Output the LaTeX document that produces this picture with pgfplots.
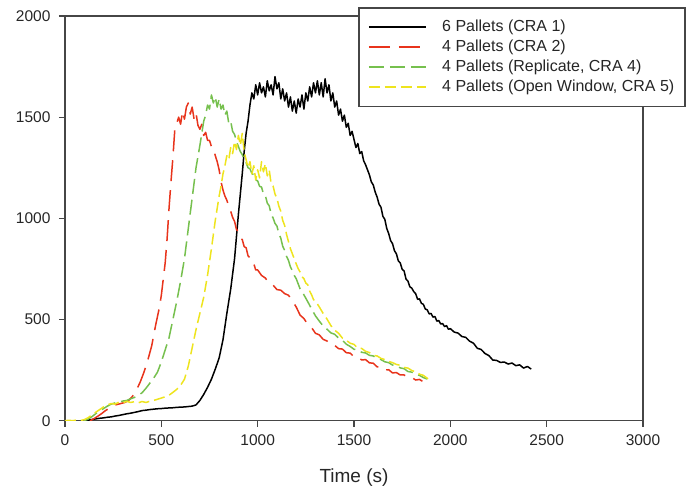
\documentclass[border=0pt]{standalone}
\usepackage{fontspec}
\setmainfont{Liberation Sans}
\usepackage{pgfplots}
\pgfplotsset{compat=1.18}
\definecolor{axgray}{RGB}{70,70,70}
\definecolor{cred}{RGB}{232,52,28}
\definecolor{cgreen}{RGB}{118,192,78}
\definecolor{cyellow}{RGB}{238,228,30}
\begin{document}
\begin{tikzpicture}
\begin{axis}[
  scale only axis, width=578pt, height=404.7pt,
  xmin=0, xmax=3000, ymin=0, ymax=2000,
  xtick={0,500,...,3000}, ytick={0,500,...,2000},
  tick align=outside, xtick pos=bottom, ytick pos=left,
  major tick length=6pt,
  axis line style={draw=axgray, line width=1.3pt},
  every tick/.style={draw=axgray, line width=1.2pt},
  /pgf/number format/assume math mode=true,
  /pgf/number format/1000 sep={},
  ticklabel style={font=\fontsize{15.5}{18}\selectfont, text=black!85},
  xticklabel style={yshift=-4pt},
  yticklabel style={xshift=-5pt},
  xlabel={Time (s)},
  xlabel style={font=\fontsize{19}{22}\selectfont, text=black!85, yshift=-17pt},
  legend style={name=leg, at={(rel axis cs:1.0727,1.0198)}, anchor=north east,
    draw=none, fill=white,
    font=\fontsize{16}{19}\selectfont, text=black!85,
    inner xsep=9pt, inner ysep=9pt, row sep=0pt, column sep=14pt,
    nodes={inner sep=1.5pt, text height=12.5pt, text depth=4.5pt}},
  legend cell align=left,
  legend image code/.code={\draw[#1] (0pt,0pt) -- (57pt,0pt);},
  every axis plot/.append style={line width=1.5pt, line join=round},
]
\addplot[black] coordinates {
(100,0)(120,3)(140,6)(160,9)(180,12)(200,14)(220,17)(240,19)(260,23)(280,26)(300,30)(320,34)(340,37)(360,41)(380,45)(400,50)(420,52)(440,55)(460,57)(480,59)(500,60)(520,62)(540,63)(560,64)(580,66)(600,67)(620,68)(640,70)(660,72)(680,78)(700,100)(720,130)(740,165)(760,205)(780,255)(800,310)(820,400)(840,530)(860,650)(880,800)(900,1020)(910,1120)(920,1220)(930,1330)
(940,1420)(950,1480)(960,1560)(970,1620)(980,1590)(990,1660)(1000,1610)(1010,1670)(1020,1620)(1030,1650)(1040,1600)(1050,1680)(1060,1630)(1070,1660)(1080,1610)(1090,1700)(1100,1640)(1110,1670)(1120,1590)(1130,1640)(1140,1580)(1150,1620)(1160,1550)(1170,1600)(1180,1530)(1190,1580)(1200,1520)(1210,1590)(1220,1550)(1230,1610)(1240,1540)(1250,1620)(1260,1580)(1270,1650)(1280,1600)(1290,1670)(1300,1620)(1310,1680)(1320,1610)(1330,1670)(1340,1600)(1350,1690)(1360,1620)(1370,1660)(1380,1580)(1390,1620)(1400,1550)(1410,1580)(1420,1510)(1430,1540)(1440,1480)(1450,1510)(1460,1450)(1470,1470)(1480,1410)(1490,1430)(1500,1390)
(1510,1350)(1520,1370)(1530,1320)(1540,1330)(1550,1285)(1560,1265)(1570,1240)(1580,1215)(1590,1180)(1600,1165)(1610,1130)(1620,1105)(1630,1070)(1640,1055)(1650,1010)(1660,995)(1670,950)(1680,925)(1690,890)(1700,875)(1710,840)(1720,825)(1730,790)(1740,780)(1750,748)(1760,740)(1770,700)(1780,690)(1790,662)(1800,655)(1810,638)(1820,628)(1830,600)(1840,602)(1850,580)(1860,575)(1870,552)(1880,548)(1890,528)(1900,530)(1910,512)(1920,515)(1930,492)(1940,495)(1950,478)(1960,480)(1970,465)(1980,470)(1990,452)(2000,455)(2020,438)(2040,433)(2060,416)(2080,412)(2100,393)(2120,383)(2140,358)(2160,352)(2180,332)(2200,322)(2220,300)(2240,298)(2260,288)(2280,290)(2300,280)(2320,285)(2340,272)(2360,276)(2380,260)(2400,268)(2420,255)
};
\addlegendentry{6 Pallets (CRA 1)}
\addplot[cred, dash pattern=on 21pt off 9pt] coordinates {
(130,0)(150,10)(170,22)(190,35)(210,50)(230,62)(250,75)(270,80)(290,85)(310,90)(330,100)(350,120)(370,150)(390,190)(410,240)(430,300)(450,370)(470,470)(490,560)(500,620)(510,700)(520,780)(530,900)(540,1050)(550,1180)(560,1300)(570,1440)(580,1470)(590,1500)(600,1465)(610,1530)(620,1490)(630,1550)(640,1570)(650,1515)(660,1550)(670,1490)(680,1520)(690,1460)(700,1440)(710,1465)(720,1410)(730,1425)(740,1385)(750,1385)(760,1355)(770,1350)(780,1310)(790,1280)(800,1240)(810,1180)(820,1140)(830,1110)(840,1090)(850,1060)(860,1035)(870,1005)(880,985)(890,945)(900,935)(910,905)(920,895)(930,860)(940,855)(950,815)(960,805)(970,780)(980,775)(990,745)(1000,745)(1020,718)(1040,705)(1060,678)(1080,670)(1100,648)(1120,645)(1140,628)(1160,620)(1180,592)(1200,562)(1220,522)(1240,505)(1260,476)(1280,460)(1300,432)(1320,424)(1340,402)(1360,394)(1380,375)(1400,372)(1420,356)(1440,354)(1460,336)(1480,334)(1500,316)(1520,314)(1540,300)(1560,302)(1580,286)(1600,284)(1620,266)(1640,266)(1660,250)(1680,252)(1700,236)(1720,238)(1740,226)(1760,226)(1780,214)(1800,214)(1820,201)(1840,204)(1855,195)
};
\addlegendentry{4 Pallets (CRA 2)}
\addplot[cgreen, dash pattern=on 15pt off 6pt] coordinates {
(100,0)(120,8)(140,20)(160,35)(180,48)(200,60)(220,72)(240,82)(260,88)(280,92)(300,97)(320,100)(340,108)(360,115)(380,125)(400,138)(420,160)(440,185)(460,210)(480,240)(500,290)(520,350)(540,410)(560,500)(580,590)(600,690)(620,800)(640,950)(660,1100)(680,1250)(700,1360)(710,1420)(720,1480)(730,1510)(740,1560)(750,1540)(760,1610)(770,1570)(780,1600)(790,1550)(800,1590)(810,1540)(820,1560)(830,1510)(840,1530)(850,1470)(860,1480)(870,1430)(880,1415)(890,1380)(900,1355)(910,1330)(920,1315)(930,1290)(940,1275)(950,1250)(960,1245)(970,1222)(980,1215)(990,1190)(1000,1185)(1010,1158)(1020,1155)(1030,1120)(1040,1112)(1050,1075)(1060,1062)(1070,1020)(1080,1002)(1090,975)(1100,962)(1110,925)(1120,902)(1130,862)(1140,842)(1150,812)(1160,792)(1170,760)(1180,742)(1190,718)(1200,702)(1220,652)(1240,622)(1260,588)(1280,552)(1300,518)(1320,492)(1340,468)(1360,452)(1380,434)(1400,427)(1420,408)(1440,397)(1460,378)(1480,367)(1500,353)(1520,350)(1540,338)(1560,335)(1580,323)(1600,320)(1620,308)(1640,302)(1660,291)(1680,287)(1700,275)(1720,272)(1740,261)(1760,257)(1780,243)(1800,240)(1820,228)(1840,224)(1860,213)(1880,206)
};
\addlegendentry{4 Pallets (Replicate, CRA 4)}
\addplot[cyellow, dash pattern=on 11pt off 5pt] coordinates {
(0,0)(20,2)(40,0)(60,3)(80,1)(100,5)(120,15)(140,28)(160,42)(180,55)(200,68)(220,78)(240,85)(260,82)(280,92)(300,88)(320,96)(340,90)(360,94)(380,88)(400,95)(420,90)(440,96)(460,100)(480,106)(500,112)(520,118)(540,126)(560,140)(580,155)(600,175)(620,205)(640,270)(660,360)(680,450)(700,530)(720,610)(740,720)(760,850)(780,990)(800,1110)(810,1160)(820,1220)(830,1260)(840,1310)(850,1290)(860,1350)(870,1320)(880,1380)(890,1340)(900,1410)(910,1360)(920,1420)(930,1330)(940,1290)(950,1250)(960,1280)(970,1220)(980,1260)(990,1190)(1000,1240)(1010,1200)(1020,1280)(1030,1230)(1040,1270)(1050,1210)(1060,1240)(1070,1170)(1080,1160)(1090,1120)(1100,1100)(1110,1060)(1120,1035)(1130,990)(1140,965)(1150,920)(1160,885)(1170,850)(1180,825)(1190,800)(1200,775)(1210,752)(1220,735)(1230,712)(1240,702)(1250,680)(1260,672)(1270,640)(1280,622)(1290,598)(1300,592)(1320,562)(1340,530)(1360,502)(1380,470)(1400,447)(1420,432)(1440,408)(1460,397)(1480,383)(1500,377)(1520,358)(1540,357)(1560,343)(1580,337)(1600,323)(1620,320)(1640,308)(1660,302)(1680,293)(1700,287)(1720,278)(1740,274)(1760,263)(1780,260)(1800,248)(1820,242)(1840,230)(1860,224)(1880,210)(1895,195)
};
\addlegendentry{4 Pallets (Open Window, CRA 5)}
\end{axis}
\draw[axgray, line width=1.2pt] (leg.south west) rectangle (leg.north east);
\path ([shift={(-65pt,-70.3pt)}]current axis.south west) rectangle ([shift={(51pt,16pt)}]current axis.north east);
\end{tikzpicture}
\end{document}
